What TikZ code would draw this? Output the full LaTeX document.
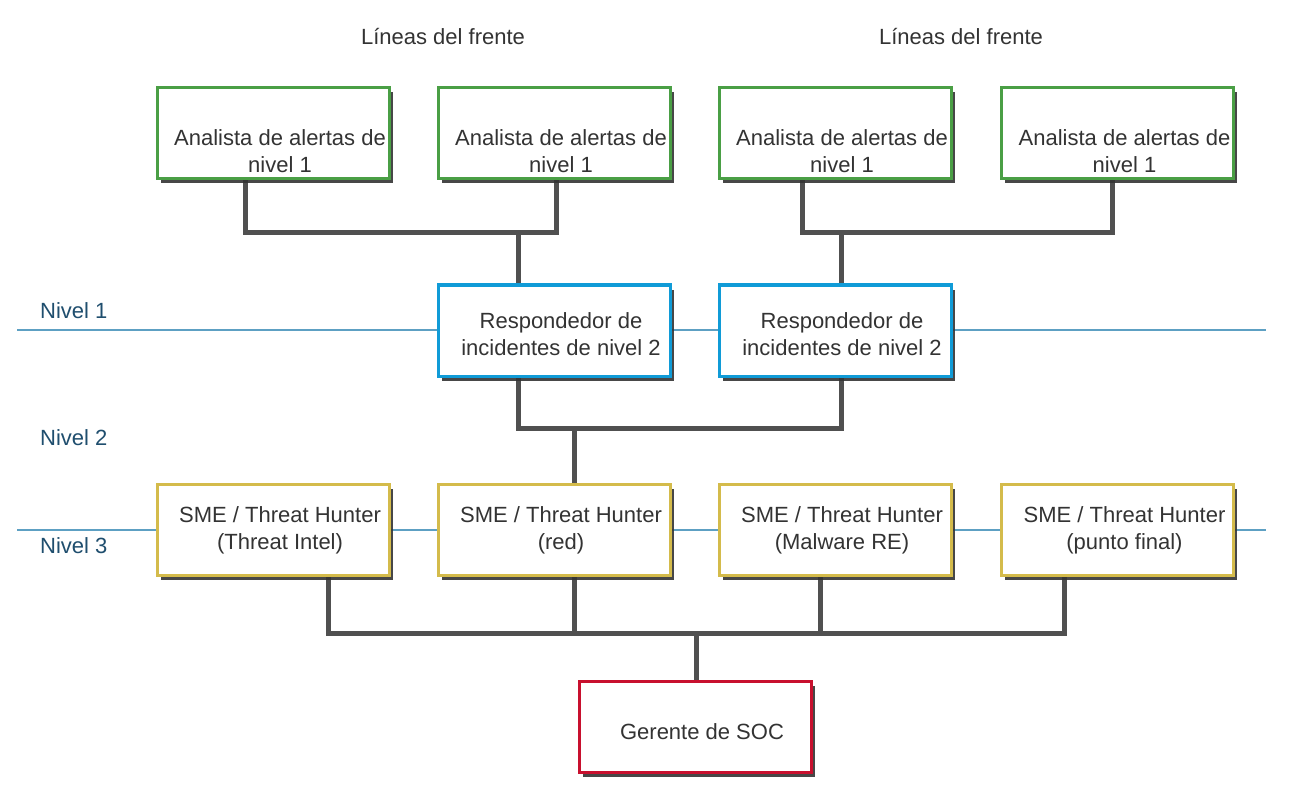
\documentclass[tikz,border=0pt]{standalone}
\usepackage{fontspec}
\setmainfont{Liberation Sans}
\usetikzlibrary{shadows,backgrounds}
\definecolor{txt}{RGB}{51,51,51}
\definecolor{cgreen}{RGB}{74,159,69}
\definecolor{cblue}{RGB}{16,155,215}
\definecolor{cgold}{RGB}{212,187,75}
\definecolor{cred}{RGB}{200,16,46}
\definecolor{cconn}{RGB}{80,80,80}
\definecolor{clvl}{RGB}{93,160,195}
\definecolor{clvltxt}{RGB}{31,78,110}
\tikzset{
  box/.style={draw, line width=3pt, fill=white, minimum width=232pt, minimum height=91pt,
    inner sep=0pt, drop shadow={shadow xshift=3.5pt, shadow yshift=-4.5pt, fill=black!80, opacity=0.9}},
  gbox/.style={box, draw=cgreen},
  bbox/.style={box, draw=cblue},
  ybox/.style={box, draw=cgold},
  rbox/.style={box, draw=cred},
  lbl/.style={text=txt, align=center, inner sep=0pt, font=\fontsize{22}{27}\selectfont},
  lvltxt/.style={text=clvltxt, anchor=west, inner sep=0pt, font=\fontsize{22}{27}\selectfont},
  conn/.style={draw=cconn, line width=5pt},
  lvl/.style={draw=clvl, line width=1.6pt}
}
\begin{document}
\begin{tikzpicture}[x=1pt,y=-1pt]
\useasboundingbox (0,0) rectangle (1299,805);

% headings
\node[lbl] (h1) at (443,37) {Líneas del frente};
\node[lbl] (h2) at (961,37) {Líneas del frente};

% level labels
\node[lvltxt] (n1) at (40,311) {Nivel 1};
\node[lvltxt] (n2) at (40,438) {Nivel 2};
\node[lvltxt] (n3) at (40,546) {Nivel 3};

% top row
\node[gbox] (a1) at (273,133) {};
\node[gbox] (a2) at (554,133) {};
\node[gbox] (a3) at (835,133) {};
\node[gbox] (a4) at (1117.5,133) {};
\foreach \n in {a1,a2,a3,a4}
  \node[lbl] (\n t) at ([xshift=7pt,yshift=-18.5pt]\n.center) {Analista de alertas de\\nivel 1};

% level 2
\node[bbox] (r1) at (554,330.5) {};
\node[bbox] (r2) at (835,330.5) {};
\foreach \n in {r1,r2}
  \node[lbl] (\n t) at ([xshift=7pt,yshift=-4pt]\n.center) {Respondedor de\\incidentes de nivel 2};

% level 3
\node[ybox] (s1) at (273,530) {};
\node[ybox] (s2) at (554,530) {};
\node[ybox] (s3) at (835,530) {};
\node[ybox] (s4) at (1117.5,530) {};
\node[lbl] (s1t) at ([xshift=7pt]s1.center) {SME / Threat Hunter\\(Threat Intel)};
\node[lbl] (s2t) at ([xshift=7pt]s2.center) {SME / Threat Hunter\\(red)};
\node[lbl] (s3t) at ([xshift=7pt]s3.center) {SME / Threat Hunter\\(Malware RE)};
\node[lbl] (s4t) at ([xshift=7pt]s4.center) {SME / Threat Hunter\\(punto final)};

% manager
\node[rbox] (g) at (695,726.5) {};
\node[lbl] (gt) at ([xshift=7pt,yshift=-5pt]g.center) {Gerente de SOC};

% junctions
\coordinate (j1) at (518,233);
\coordinate (j2) at (841,233);
\coordinate (j3) at (574,428);
\coordinate (j4) at (696,633);
\coordinate (l1a) at (17,330);
\coordinate (l1b) at (1266,330);
\coordinate (l3a) at (17,530);
\coordinate (l3b) at (1266,530);

\begin{pgfonlayer}{background}
  \fill[white] (0,0) rectangle (1299,805);
  \draw[lvl] (l1a) -- (l1b);
  \draw[lvl] (l3a) -- (l3b);
  \draw[conn] ([xshift=-28pt]a1.south) |- (j1) -| ([xshift=2pt]a2.south);
  \draw[conn] (j1) -- (j1 |- r1.north);
  \draw[conn] ([xshift=-33pt]a3.south) |- (j2) -| ([xshift=-5.5pt]a4.south);
  \draw[conn] (j2) -- (j2 |- r2.north);
  \draw[conn] ([xshift=-36pt]r1.south) |- (j3) -| ([xshift=6pt]r2.south);
  \draw[conn] (j3) -- (j3 |- s2.north);
  \draw[conn] ([xshift=55pt]s1.south) |- (j4) -| ([xshift=-53.5pt]s4.south);
  \draw[conn] ([xshift=20pt]s2.south) -- ([xshift=20pt]s2.south |- j4);
  \draw[conn] ([xshift=-15pt]s3.south) -- ([xshift=-15pt]s3.south |- j4);
  \draw[conn] (j4) -- (j4 |- g.north);
\end{pgfonlayer}
\end{tikzpicture}
\end{document}
